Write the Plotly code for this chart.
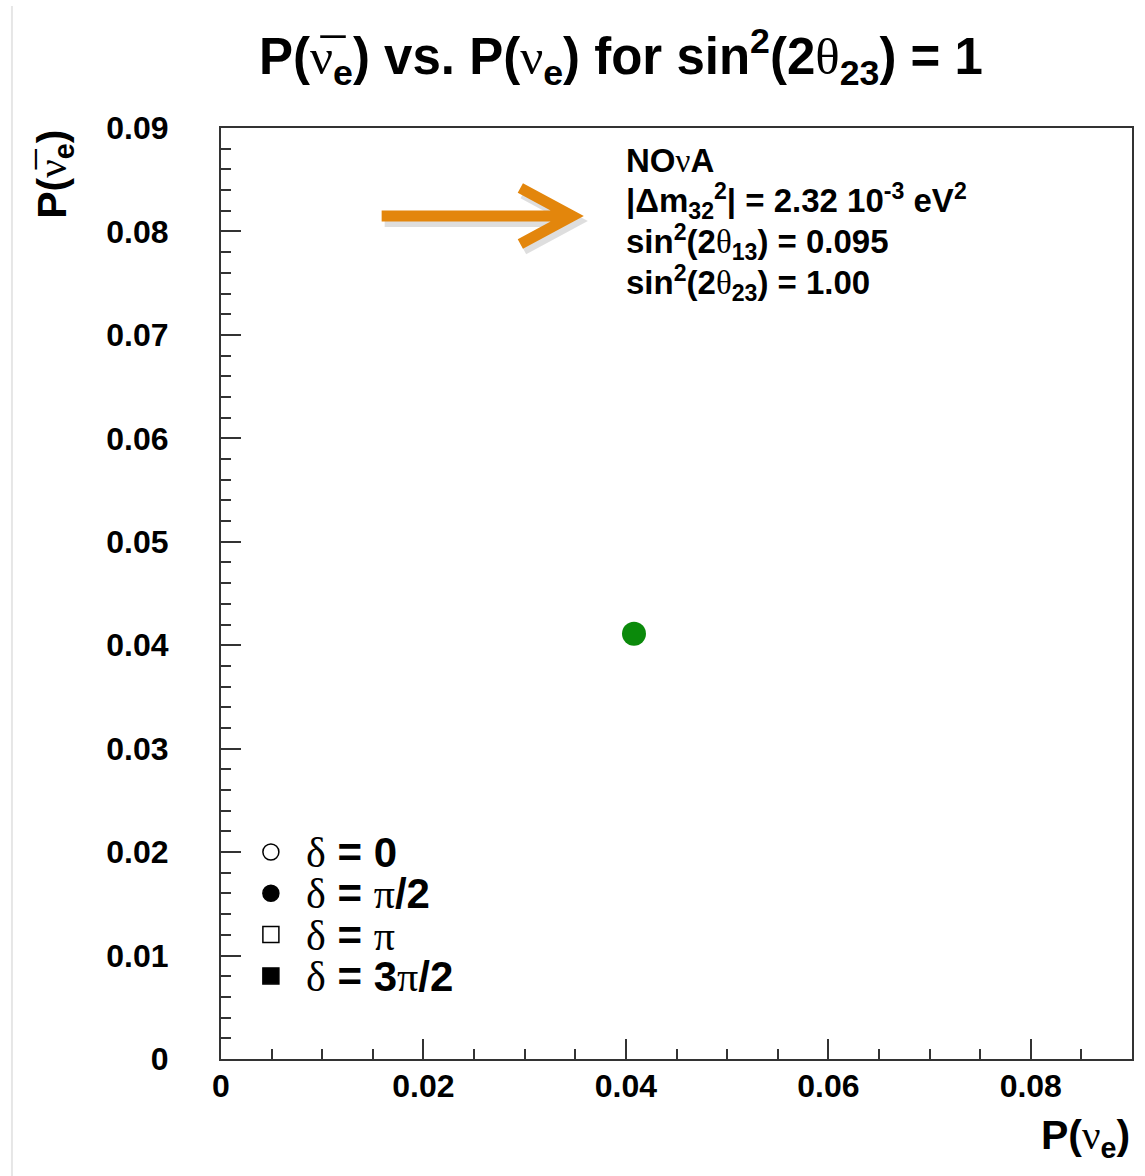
import plotly.graph_objects as go

# ---- data ----
p_nue = [0.0408]        # P(nu_e)
p_nuebar = [0.0411]     # P(nu_e bar)
point_color = "#0B8A0B"

legend_labels = ["0", "π/2", "π", "3π/2"]
legend_symbols = ["circle-open", "circle", "square-open", "square"]

info_lines = [
    "NOνA",
    "|Δm<sub>32</sub><sup>2</sup>| = 2.32 10<sup>-3</sup> eV<sup>2</sup>",
    "sin<sup>2</sup>(2θ<sub>13</sub>) = 0.095",
    "sin<sup>2</sup>(2θ<sub>23</sub>) = 1.00",
]

x_range = [0, 0.09]
y_range = [0, 0.09]

# ---- layout geometry (pixels) ----
W, H = 1145, 1176
L, R, T, B = 221, 11, 128, 117
PW = W - L - R
PH = H - T - B


def px(xp):
    return (xp - L) / PW


def py(yp):
    return (H - B - yp) / PH


SANS = "Liberation Sans, Arial, Helvetica, sans-serif"
SERIF_SPAN = '<span style="font-family:Liberation Serif;font-weight:normal">{}</span>'
NUBAR = "ν\u0305"


def greek(s):
    out = ""
    for ch in s:
        if ch in "νθδπ":
            out += SERIF_SPAN.format(ch)
        else:
            out += ch
    return out


fig = go.Figure()
fig.add_trace(go.Scatter(
    x=p_nue, y=p_nuebar, mode="markers",
    marker=dict(size=24, color=point_color, line=dict(width=0)),
    showlegend=False, hoverinfo="skip",
))

annotations = []
# Title
title = ("P(" + SERIF_SPAN.format(NUBAR) + "<sub>e</sub>) vs. P(" + SERIF_SPAN.format("ν")
         + "<sub>e</sub>) for sin<sup>2</sup>(2" + SERIF_SPAN.format("θ") + "<sub>23</sub>) = 1")
annotations.append(dict(text=title, xref="paper", yref="paper", x=px(622), y=py(57),
                        xanchor="center", yanchor="middle", showarrow=False,
                        font=dict(family=SANS, size=51, color="black", weight="bold")))
# X title
annotations.append(dict(text="P(" + SERIF_SPAN.format("ν") + "<sub>e</sub>)", xref="paper", yref="paper",
                        x=1.0, y=py(1138), xanchor="right", yanchor="middle", showarrow=False,
                        font=dict(family=SANS, size=41, color="black", weight="bold")))
# Y title
annotations.append(dict(text="P(" + SERIF_SPAN.format(NUBAR) + "<sub>e</sub>)", xref="paper", yref="paper",
                        x=px(54), y=1.0, xanchor="center", yanchor="top", textangle=-90, showarrow=False,
                        font=dict(family=SANS, size=41, color="black", weight="bold")))
# Info text
for i, line in enumerate(info_lines):
    annotations.append(dict(text=greek(line), xref="paper", yref="paper",
                            x=px(625), y=py(160 + 41 * i), xanchor="left", yanchor="middle",
                            showarrow=False, height=38, valign="middle",
                            font=dict(family=SANS, size=33, color="black", weight="bold")))

shapes = []
# Legend
for i, (lab, sym) in enumerate(zip(legend_labels, legend_symbols)):
    yc = 852 + 41.3 * i
    annotations.append(dict(text=greek("δ = " + lab), xref="paper", yref="paper",
                            x=px(304), y=py(yc), xanchor="left", yanchor="middle", showarrow=False,
                            height=38, valign="middle",
                            font=dict(family=SANS, size=42, color="black", weight="bold")))
    kind = "circle" if sym.startswith("circle") else "rect"
    filled = not sym.endswith("open")
    shapes.append(dict(type=kind, xref="paper", yref="paper",
                       xsizemode="pixel", ysizemode="pixel",
                       xanchor=px(271), yanchor=py(yc),
                       x0=-8, x1=8, y0=-8, y1=8,
                       line=dict(color="black", width=1.5),
                       fillcolor="black" if filled else "white"))

# Orange arrow (shadow + arrow)
ORANGE = "#E3860C"


def arrow_path(dx=0, dy=0):
    return (f"M {px(382+dx)},{py(216+dy)} L {px(568+dx)},{py(216+dy)} "
            f"M {px(521+dx)},{py(188+dy)} L {px(573+dx)},{py(216+dy)} L {px(521+dx)},{py(244+dy)}")


shapes.append(dict(type="path", xref="paper", yref="paper", path=arrow_path(3, 5),
                   line=dict(color="rgba(0,0,0,0.13)", width=12)))
shapes.append(dict(type="path", xref="paper", yref="paper", path=arrow_path(),
                   line=dict(color=ORANGE, width=11)))
# light page border on left
shapes.append(dict(type="line", xref="paper", yref="paper",
                   x0=px(11.5), x1=px(11.5), y0=py(6), y1=py(1176),
                   line=dict(color="#E6E6E6", width=2)))

axis_common = dict(
    showgrid=False, zeroline=False, showline=True, mirror=True,
    linecolor="#333333", linewidth=2,
    ticks="inside", tickcolor="#333333", tickwidth=1.5, ticklen=20,
    tickfont=dict(family=SANS, size=32, color="black", weight="bold"),
)

fig.update_layout(
    width=W, height=H,
    margin=dict(l=L, r=R, t=T, b=B, pad=0),
    paper_bgcolor="white", plot_bgcolor="white",
    showlegend=False,
    xaxis=dict(range=x_range, dtick=0.02, tick0=0,
               minor=dict(dtick=0.005, ticks="inside", ticklen=10, tickwidth=1.5, tickcolor="#333333"),
               ticklabelstandoff=-2, **axis_common),
    yaxis=dict(range=y_range, dtick=0.01, tick0=0,
               minor=dict(dtick=0.002, ticks="inside", ticklen=10, tickwidth=1.5, tickcolor="#333333"),
               ticklabelstandoff=44, **axis_common),
    annotations=annotations,
    shapes=shapes,
)

fig.write_html("out.html")
